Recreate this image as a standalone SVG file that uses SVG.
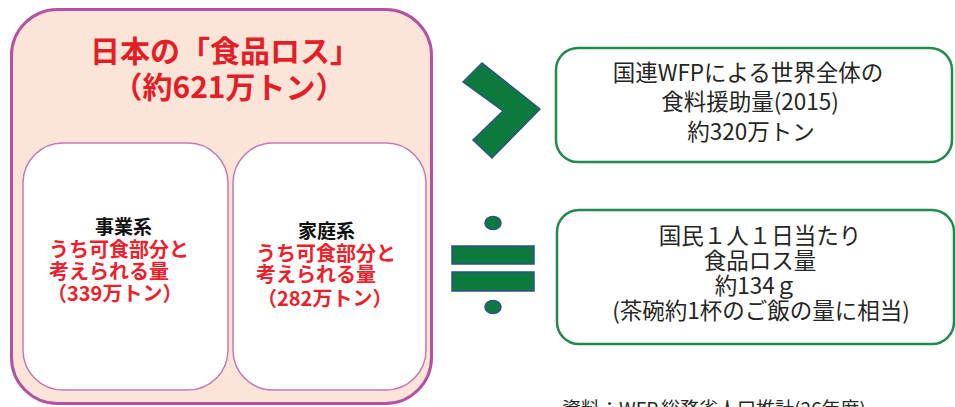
<svg xmlns="http://www.w3.org/2000/svg" width="955" height="407" viewBox="0 0 955 407">
<style>
.t{font-family:"Noto Sans CJK JP","Noto Sans",sans-serif;}
.title{font-size:30px;font-weight:bold;fill:#e41e26;text-anchor:middle;}
.red{font-size:20px;font-weight:bold;fill:#ee1f2b;}
.blk{font-size:19px;font-weight:bold;fill:#111;}
.gr{font-size:22.5px;fill:#262626;text-anchor:middle;}
.inner{fill:#fff;stroke:#c27ab6;stroke-width:1.5;}
.gbox{fill:#fff;stroke:#24894a;stroke-width:2.5;}
.sym{fill:#0b7a3c;stroke:#2e5190;stroke-width:1.5;}
</style>
<rect width="955" height="407" fill="#fff"/>
<g id="japan-food-loss">
<rect x="11.5" y="9.5" width="420" height="394" rx="46" ry="46" fill="#fde4d8" stroke="#b351a3" stroke-width="3"/>
<text class="t title" x="225" y="62">日本の「食品ロス」</text>
<text class="t title" x="229" y="98">（約621万トン）</text>
</g>
<g id="business">
<rect class="inner" x="23" y="143" width="205" height="247" rx="40" ry="40"/>
<text class="t blk" x="95" y="234">事業系</text>
<text class="t red" x="49" y="257">うち可食部分と</text>
<text class="t red" x="49" y="279">考えられる量</text>
<text class="t red" x="47" y="301">（339万トン）</text>
</g>
<g id="household">
<rect class="inner" x="233" y="143" width="193" height="247" rx="40" ry="40"/>
<text class="t blk" x="298" y="238">家庭系</text>
<text class="t red" x="256" y="261">うち可食部分と</text>
<text class="t red" x="256" y="282">考えられる量</text>
<text class="t red" x="257" y="306">（282万トン）</text>
</g>
<g id="connectors">
<polygon class="sym" points="463,82 482,63 540,109 492,158 473,140 503,111"/>
<ellipse class="sym" cx="493" cy="223" rx="8" ry="6.5"/>
<rect class="sym" x="452" y="246" width="82" height="18"/>
<rect class="sym" x="452" y="272" width="82" height="19"/>
<ellipse class="sym" cx="493" cy="307" rx="8" ry="6.5"/>
</g>
<g id="wfp-aid">
<rect class="gbox" x="556" y="48" width="396" height="114" rx="22" ry="22"/>
<text class="t gr" x="748" y="81">国連WFPによる世界全体の</text>
<text class="t gr" x="750" y="110">食料援助量(2015)</text>
<text class="t gr" x="751" y="140">約320万トン</text>
</g>
<g id="per-capita">
<rect class="gbox" x="557" y="210" width="397" height="134" rx="22" ry="22"/>
<text class="t gr" x="760" y="244">国民１人１日当たり</text>
<text class="t gr" x="760" y="269">食品ロス量</text>
<text class="t gr" x="756" y="294">約134ｇ</text>
<text class="t gr" x="761" y="319">(茶碗約1杯のご飯の量に相当)</text>
</g>
<g id="source">
<text class="t" x="562" y="416" font-size="19" fill="#262626">資料：WFP,総務省人口推計(26年度)</text>
</g>
</svg>
